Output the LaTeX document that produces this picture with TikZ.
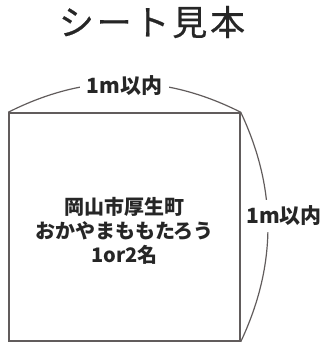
\documentclass[tikz,border=0pt]{standalone}
\usepackage{fontspec}
\setmainfont{Noto Sans CJK JP}
\definecolor{LineColor}{rgb}{0.38,0.36,0.36}
\definecolor{InkColor}{rgb}{0.15,0.15,0.15}
\tikzstyle{base}=[text=InkColor, inner sep=0pt]
\tikzstyle{heading}=[base, font=\fontsize{35}{38}\selectfont\addfontfeature{LetterSpace=8, FakeBold=0.6}]
\tikzstyle{sizelabel}=[base, fill=white, inner xsep=2pt, inner ysep=6pt,
                       font=\fontsize{21}{24}\selectfont\bfseries]
\tikzstyle{sheet}=[rectangle,
                   draw=LineColor,
                   line width=1.5pt,
                   minimum width=231pt,
                   minimum height=228pt]
\tikzstyle{names}=[base, align=center, font=\fontsize{20}{24}\selectfont\bfseries]
\tikzstyle{bound}=[draw=LineColor, line width=1.2pt]

\begin{document}
\begin{tikzpicture}[x=1pt, y=-1pt]
    \useasboundingbox (0,0) rectangle (329,345);

    \node at (152,   22) (title)  [heading] {シート見本};
    \node at (124.5, 227) (sheet) [sheet]   {};
    \node at (124.5, 231) (text)  [names]   {岡山市厚生町\\おかやまももたろう\\1or2名};

    % width and height marks
    \draw[bound] (sheet.north west) .. controls (86,73) and (163,73) .. (sheet.north east)
        node[pos=0.5, yshift=-3pt, sizelabel, inner xsep=7pt] (width) {1m以内};
    \draw[bound] (sheet.north east) .. controls (277,189) and (277,265) .. (sheet.south east);
    \node at (284, 216) (height) [sizelabel] {1m以内};
\end{tikzpicture}
\end{document}
